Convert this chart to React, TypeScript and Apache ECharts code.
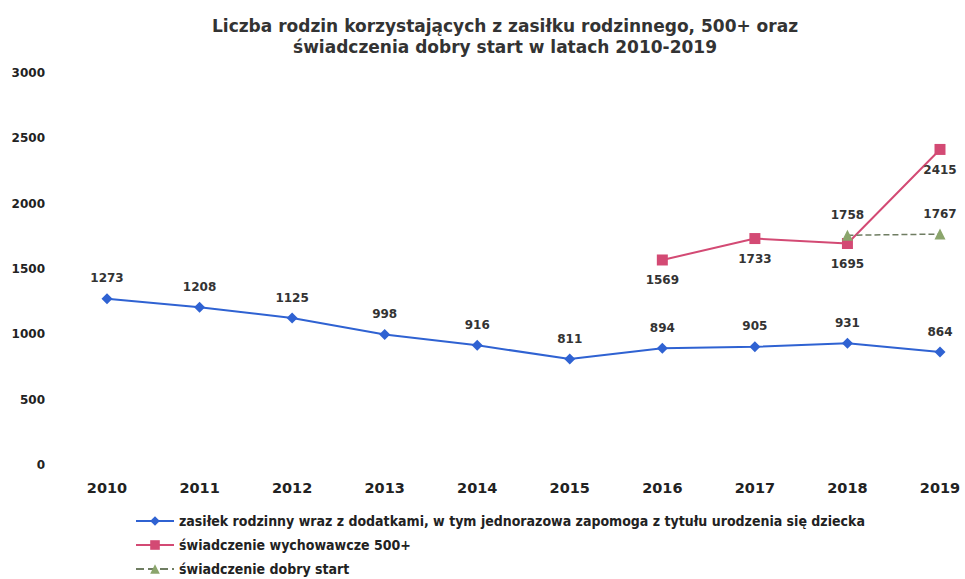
import React, { useEffect, useRef } from "react";
import * as echarts from "echarts";

const years = ["2010", "2011", "2012", "2013", "2014", "2015", "2016", "2017", "2018", "2019"];
const zasilek = [1273, 1208, 1125, 998, 916, 811, 894, 905, 931, 864];
const wychowawcze = ["-", "-", "-", "-", "-", "-", 1569, 1733, 1695, 2415];
const dobryStart = ["-", "-", "-", "-", "-", "-", "-", "-", 1758, 1767];
const seriesNames = [
  "zasiłek rodzinny wraz z dodatkami, w tym jednorazowa zapomoga z tytułu urodzenia się dziecka",
  "świadczenie wychowawcze 500+",
  "świadczenie dobry start",
];
const titleText = "Liczba rodzin korzystających z zasiłku rodzinnego, 500+ oraz\nświadczenia dobry start w latach 2010-2019";

const FONT = "'DejaVu Sans', 'Liberation Sans', Arial, sans-serif";
const LEGEND_FONT = "'DejaVu Sans Condensed', 'DejaVu Sans', sans-serif";

export default function App() {
  const ref = useRef<HTMLDivElement>(null);
  useEffect(() => {
    document.body.style.margin = "0";
    const chart = echarts.init(ref.current!, undefined, { renderer: "svg" });
    const labelStyle = { fontFamily: FONT, fontWeight: "bold", fontSize: 12, color: "#333" };
    chart.setOption({
      animation: false,
      backgroundColor: "#fff",
      title: {
        text: titleText,
        left: 500,
        textAlign: "center",
        top: 10,
        textStyle: { fontFamily: FONT, fontWeight: "bold", fontSize: 17, color: "#333", lineHeight: 21 },
      },
      legend: {
        orient: "vertical",
        left: 130,
        top: 509,
        height: 100,
        itemWidth: 38,
        itemHeight: 12,
        itemGap: 10,
        textStyle: { fontFamily: LEGEND_FONT, fontSize: 14, fontWeight: "bold", color: "#222" },
        data: seriesNames,
      },
      grid: { left: 107, right: 25, top: 73, bottom: 114, containLabel: false },
      xAxis: {
        type: "category",
        data: years,
        boundaryGap: false,
        axisLine: { show: false },
        axisTick: { show: false },
        splitLine: { show: false },
        axisLabel: { ...labelStyle, fontSize: 14.5, margin: 15, color: "#222" },
      },
      yAxis: {
        type: "value",
        min: 0,
        max: 3000,
        interval: 500,
        axisLine: { show: false },
        axisTick: { show: false },
        splitLine: { show: false },
        axisLabel: { ...labelStyle, margin: 62, color: "#222", formatter: (v: number) => String(v) },
      },
      series: [
        {
          name: seriesNames[0],
          type: "line",
          data: zasilek,
          color: "#2f62d2",
          symbol: "diamond",
          symbolSize: 11,
          lineStyle: { width: 2, color: "#2f62d2" },
          itemStyle: { color: "#2f62d2" },
          label: { show: true, position: "top", distance: 9, ...labelStyle },
        },
        {
          name: seriesNames[1],
          type: "line",
          data: wychowawcze,
          color: "#d34a74",
          symbol: "rect",
          symbolSize: 11,
          lineStyle: { width: 2, color: "#d34a74" },
          itemStyle: { color: "#d34a74" },
          label: { show: true, position: "bottom", distance: 9, ...labelStyle },
        },
        {
          name: seriesNames[2],
          type: "line",
          data: dobryStart,
          color: "#8ba56c",
          symbol: "triangle",
          symbolSize: 11,
          lineStyle: { width: 1.5, color: "#6f7d62", type: "dashed" },
          itemStyle: { color: "#8ba56c" },
          label: { show: true, position: "top", distance: 9, ...labelStyle },
        },
      ],
    });
    return () => chart.dispose();
  }, []);
  return <div ref={ref} style={{ width: 965, height: 579 }} />;
}
